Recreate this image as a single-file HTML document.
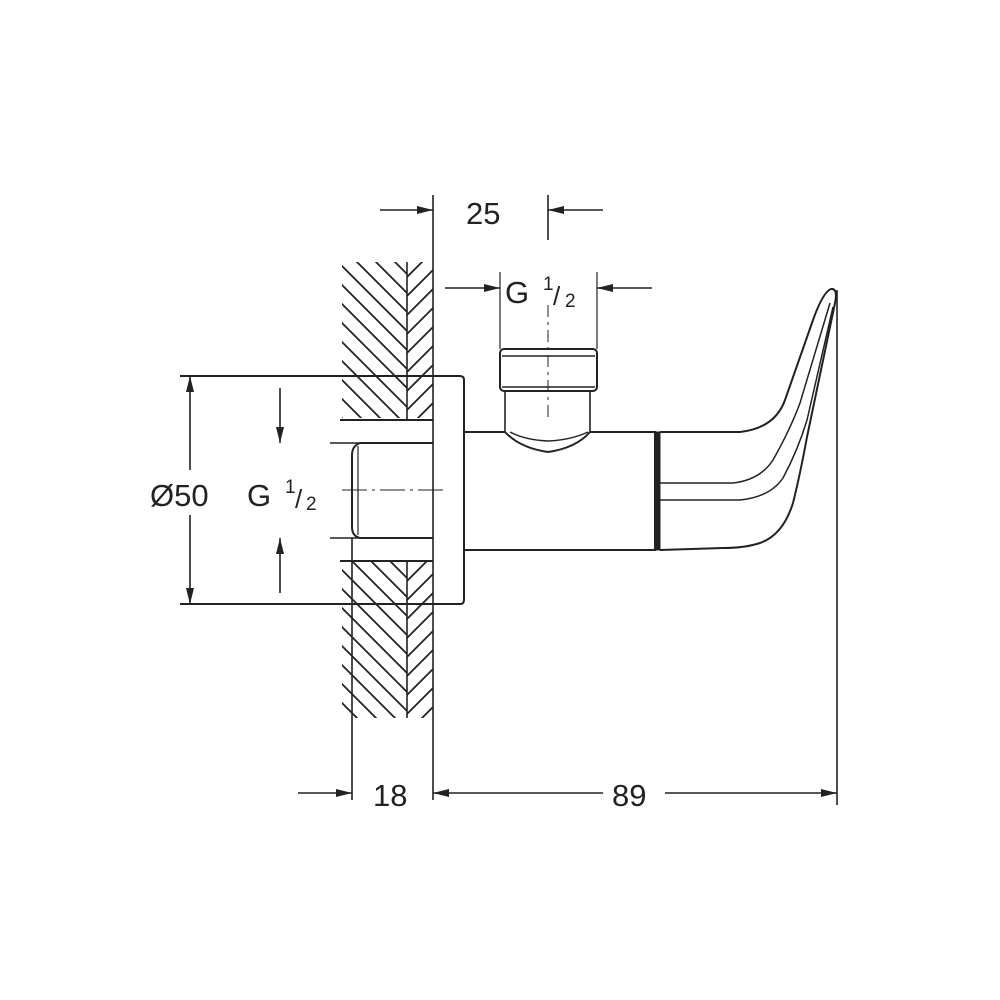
<!DOCTYPE html>
<html><head><style>
body{margin:0;background:#fff}
svg{display:block}
text{font-family:"Liberation Sans",sans-serif;fill:#222}
</style></head><body>
<svg width="1000" height="1000" viewBox="0 0 1000 1000" xmlns="http://www.w3.org/2000/svg">
<defs>
<pattern id="hl" patternUnits="userSpaceOnUse" width="19" height="19">
<path d="M-1,-1 L20,20 M-20,-1 L1,20 M18,-1 L39,20" stroke="#222" stroke-width="1.8"/>
</pattern>
<pattern id="hr" patternUnits="userSpaceOnUse" width="19" height="19">
<path d="M-1,20 L20,-1 M-20,20 L1,-1 M18,20 L39,-1" stroke="#222" stroke-width="1.8"/>
</pattern>
<marker id="a" markerWidth="16" markerHeight="8" refX="16" refY="4" orient="auto" markerUnits="userSpaceOnUse">
<path d="M0,0 L16,4 L0,8 Z" fill="#222"/>
</marker>
</defs>
<g stroke="#222" fill="none" stroke-width="1.6">
<rect x="342" y="262" width="65" height="156" fill="url(#hl)" stroke="none"/>
<rect x="407" y="262" width="26" height="156" fill="url(#hr)" stroke="none"/>
<rect x="342" y="562" width="65" height="156" fill="url(#hl)" stroke="none"/>
<rect x="407" y="562" width="26" height="156" fill="url(#hr)" stroke="none"/>
<line x1="407" y1="262" x2="407" y2="420"/>
<line x1="407" y1="561" x2="407" y2="718"/>
<line x1="433" y1="195" x2="433" y2="800"/>
<line x1="340" y1="420" x2="433" y2="420" stroke-width="2"/>
<line x1="340" y1="561" x2="433" y2="561" stroke-width="2"/>
<line x1="330" y1="443" x2="433" y2="443"/>
<line x1="330" y1="538" x2="433" y2="538"/>
<path d="M360,443 L433,443 M360,538 L433,538" stroke-width="2"/>
<path d="M360,443 Q352,446 352,455 L352,527 Q352,536 360,538" stroke-width="2"/>
<line x1="358" y1="446" x2="358" y2="535" stroke-width="1.2"/>
<line x1="352" y1="538" x2="352" y2="800"/>
<line x1="342" y1="490" x2="445" y2="490" stroke-width="1" stroke-dasharray="25,5,3,5"/>
<path d="M180,376 L460,376 Q464,376 464,380 L464,600 Q464,604 460,604 L180,604" stroke-width="2"/>
<path d="M464,432 L505,432 M590,432 L655,432 L655,550 L464,550" stroke-width="2"/>
<rect x="655" y="432" width="5" height="118" fill="#222" stroke-width="1"/>
<path d="M505,432 Q520,448 548,452 Q576,448 590,432" stroke-width="2"/>
<path d="M510,432 Q525,440 548,441 Q571,440 588,432" stroke-width="1.5"/>
<line x1="505" y1="390" x2="505" y2="432"/>
<line x1="590" y1="390" x2="590" y2="432"/>
<rect x="500" y="349" width="97" height="42" rx="4" stroke-width="2"/>
<line x1="502" y1="356" x2="595" y2="356"/>
<line x1="502" y1="387" x2="595" y2="387"/>
<line x1="548" y1="195" x2="548" y2="240"/>
<line x1="548" y1="305" x2="548" y2="420" stroke-width="1" stroke-dasharray="12,5,3,5"/>
<line x1="500" y1="272" x2="500" y2="349" stroke-width="1.2"/>
<line x1="597" y1="272" x2="597" y2="349" stroke-width="1.2"/>
<!-- handle -->
<path d="M660,432 L740,432 Q775,428 785,400 L813,320 Q823,292 831,289 Q838,288 835,303 L807,437 Q800,475 793,503 Q783,535 760,543 Q745,548 723,548 L660,550" stroke-width="2"/>
<path d="M660,483 L733,483 Q760,480 773,460 Q790,430 800,403 L830,303" stroke-width="1.5"/>
<path d="M660,500 L740,500 Q770,497 783,478 Q798,450 807,420 L833,307" stroke-width="1.5"/>
<line x1="837" y1="290" x2="837" y2="805"/>
<!-- dimensions -->
<line x1="380" y1="210" x2="433" y2="210" marker-end="url(#a)"/>
<line x1="603" y1="210" x2="548" y2="210" marker-end="url(#a)"/>
<line x1="445" y1="288" x2="500" y2="288" marker-end="url(#a)"/>
<line x1="652" y1="288" x2="597" y2="288" marker-end="url(#a)"/>
<line x1="190" y1="470" x2="190" y2="376" marker-end="url(#a)"/>
<line x1="190" y1="515" x2="190" y2="604" marker-end="url(#a)"/>
<line x1="280" y1="388" x2="280" y2="443" marker-end="url(#a)"/>
<line x1="280" y1="593" x2="280" y2="538" marker-end="url(#a)"/>
<line x1="298" y1="793" x2="352" y2="793" marker-end="url(#a)"/>
<line x1="603" y1="793" x2="433" y2="793" marker-end="url(#a)"/>
<line x1="665" y1="793" x2="837" y2="793" marker-end="url(#a)"/>
</g>
<text x="466" y="224" font-size="31">25</text>
<text x="505" y="303" font-size="31">G</text>
<text x="543" y="290" font-size="19">1</text>
<text x="553" y="305" font-size="26">/</text>
<text x="565" y="307" font-size="19">2</text>
<text x="150" y="506" font-size="31">Ø50</text>
<text x="247" y="506" font-size="31">G</text>
<text x="285" y="493" font-size="19">1</text>
<text x="295" y="508" font-size="26">/</text>
<text x="306" y="510" font-size="19">2</text>
<text x="373" y="806" font-size="31">18</text>
<text x="612" y="806" font-size="31">89</text>
</svg>
</body></html>
